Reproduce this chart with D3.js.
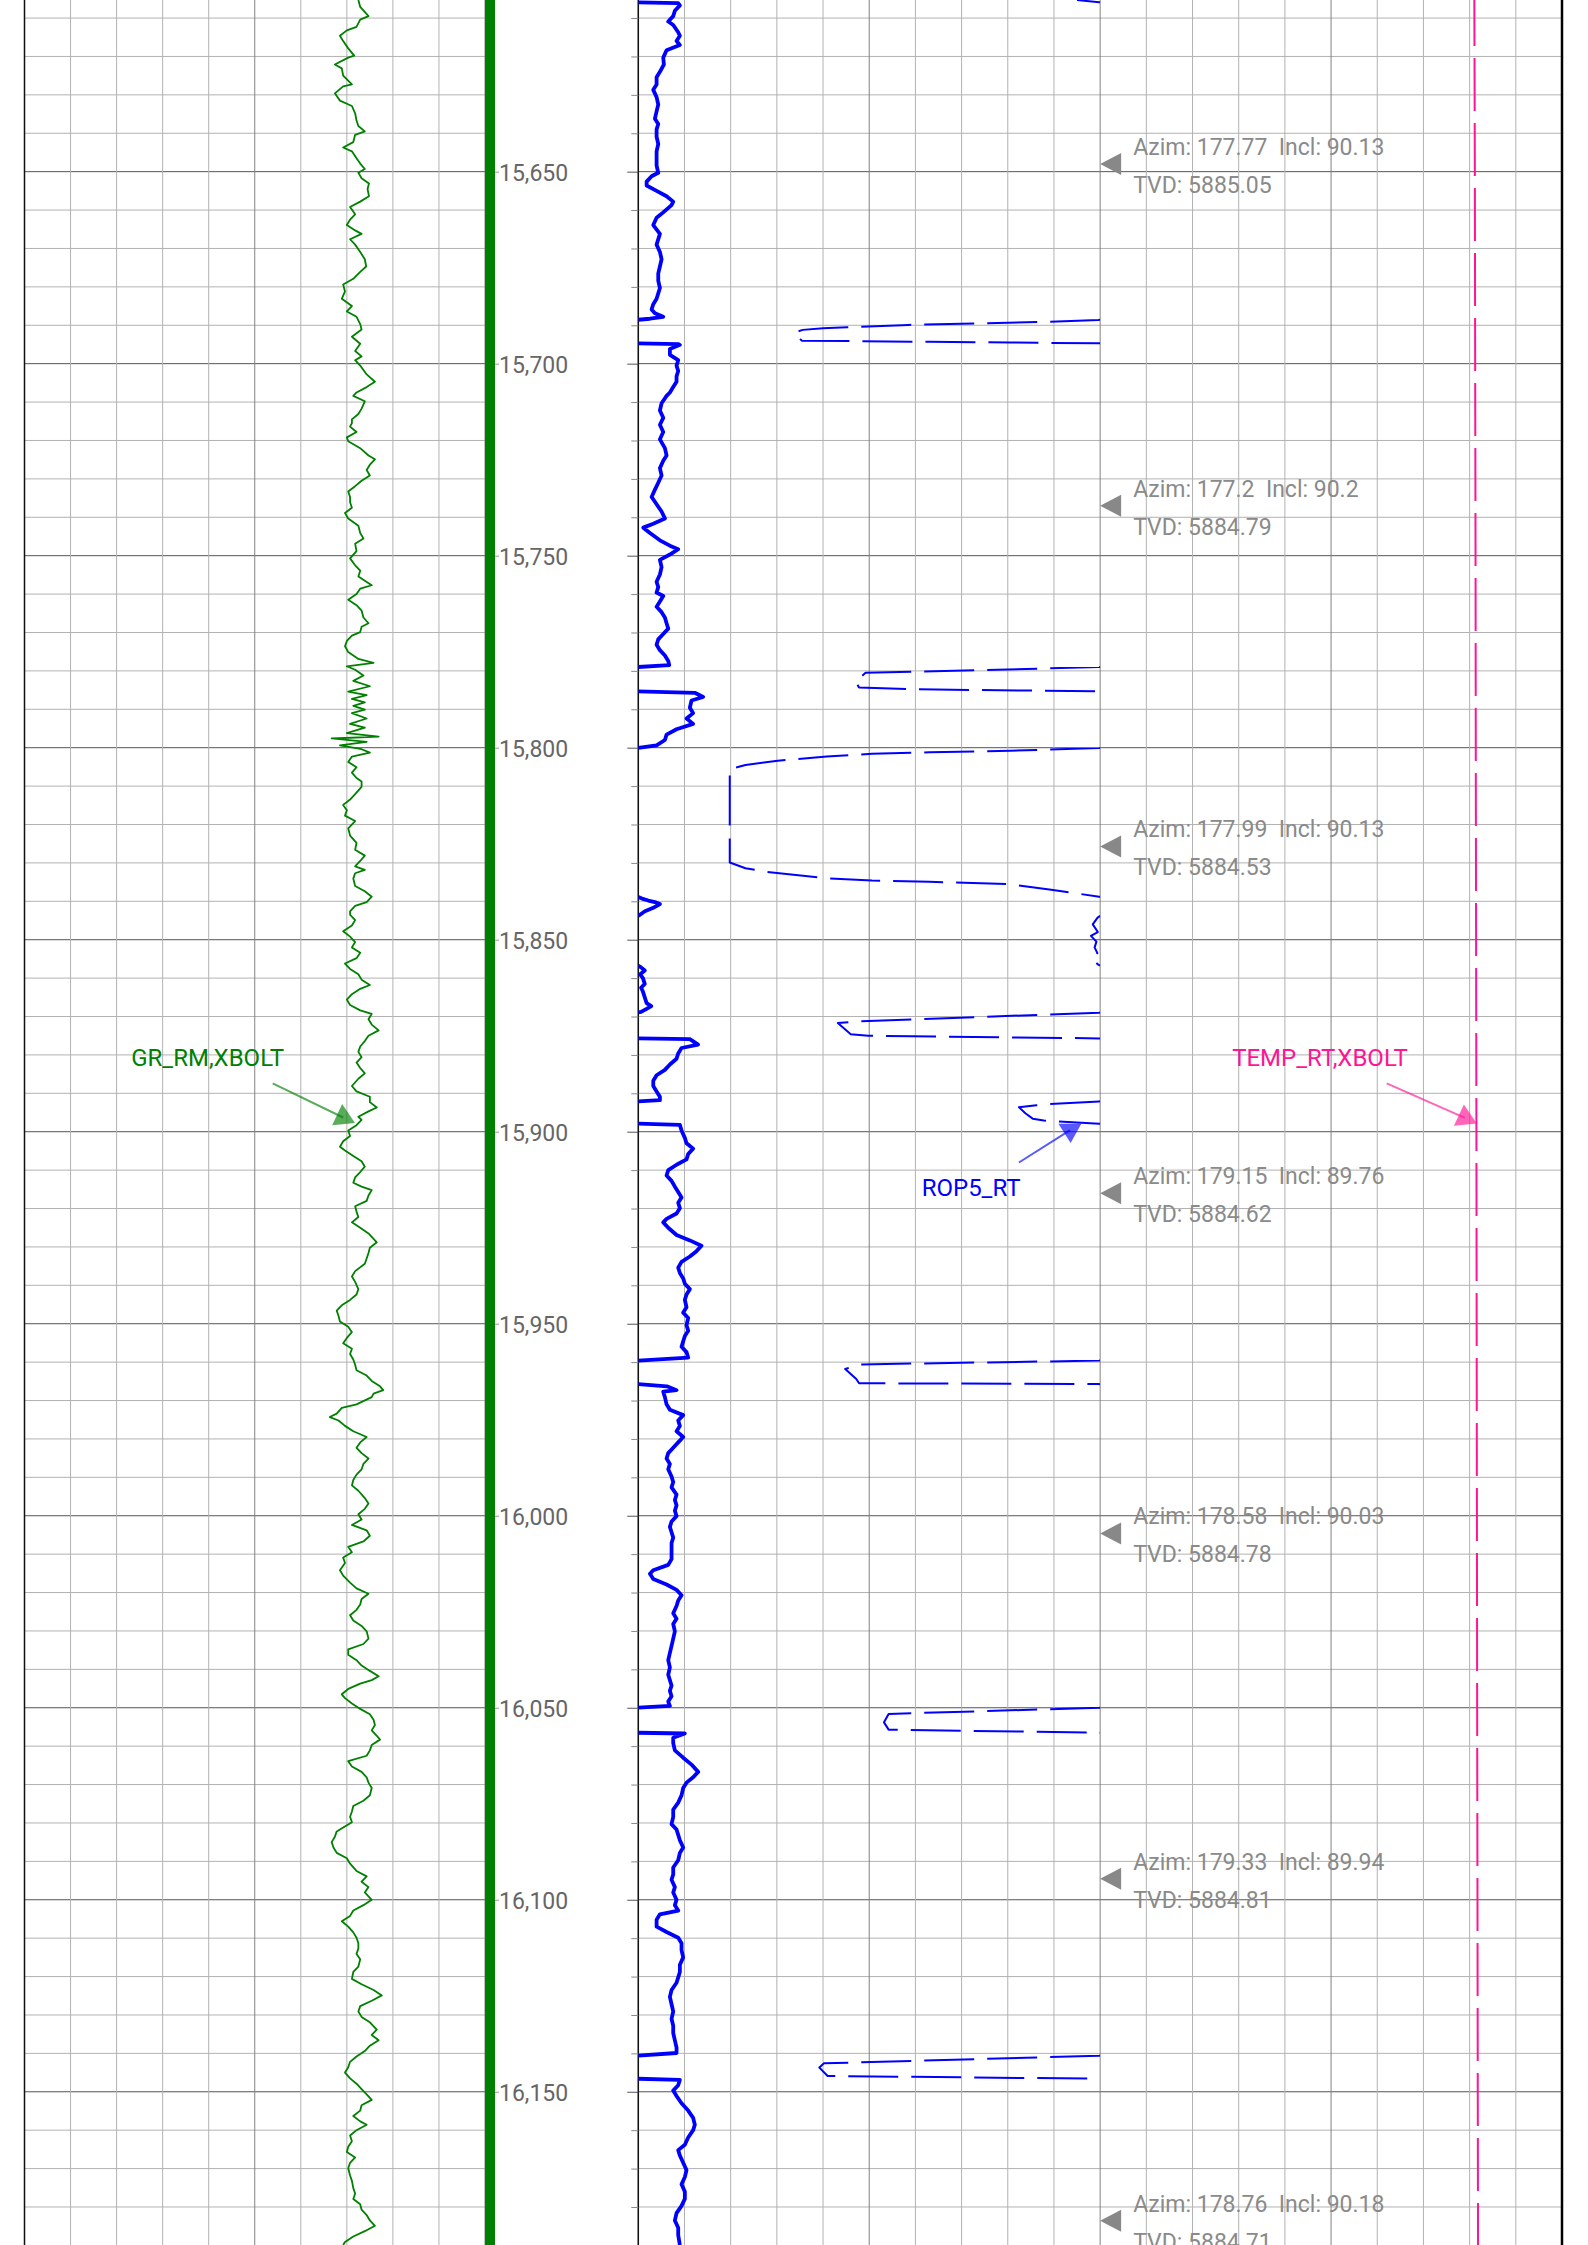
<!DOCTYPE html>
<html>
<head>
<meta charset="utf-8">
<script src="https://cdn.jsdelivr.net/npm/d3@7"></script>
<style>
  html, body { margin: 0; padding: 0; background: #fff; }
  svg { display: block; }
  text { font-family: Roboto, "Noto Sans", sans-serif; }
</style>
</head>
<body>
<svg id="log" width="1588" height="2245"></svg>
<script>
// ---- Depth window (ft MD) ----
const depthRange = [15605.3, 16189.9];
const depthMinorStep = 10;
const depthMajorStep = 50;

// ---- GR_RM,XBOLT : [depth ft, gAPI] ----
const grData = [
  [15605.3,72.5],[15607.1,72.9],[15609.5,74.7],[15610.4,72.9],[15612.3,72.1],[15613.2,70.0],[15614.6,68.5],[15616.0,69.2],
  [15617.9,70.3],[15619.8,71.6],[15620.3,70.3],[15622.1,67.4],[15623.1,68.9],[15625.0,69.2],[15627.3,71.1],[15627.8,69.2],
  [15629.6,67.4],[15631.5,68.5],[15632.9,71.1],[15634.8,71.8],[15636.7,72.1],[15638.1,72.5],[15639.5,73.9],[15640.4,71.8],
  [15642.3,71.4],[15643.7,69.2],[15644.7,71.1],[15646.5,72.1],[15647.9,72.9],[15649.3,73.9],[15650.3,72.5],[15651.7,73.2],
  [15653.1,74.8],[15654.5,74.5],[15656.4,74.8],[15657.8,72.9],[15659.2,70.7],[15661.1,71.8],[15662.5,70.7],[15663.9,70.0],
  [15665.3,71.8],[15666.2,73.2],[15667.6,70.7],[15669.0,71.8],[15670.9,72.9],[15672.8,73.9],[15674.7,74.2],[15676.1,72.9],
  [15677.9,71.4],[15679.4,69.2],[15681.2,69.6],[15683.1,68.9],[15685.0,71.1],[15686.4,70.0],[15687.8,72.1],[15689.7,72.9],
  [15691.1,73.2],[15693.0,71.1],[15694.8,72.9],[15696.7,71.8],[15698.1,73.2],[15699.1,71.8],[15700.5,72.9],[15702.8,74.3],
  [15704.7,76.1],[15706.1,74.3],[15707.5,72.1],[15708.4,71.4],[15709.8,73.9],[15711.7,73.2],[15713.1,72.5],[15714.5,71.1],
  [15715.5,71.1],[15716.4,70.7],[15717.8,72.1],[15719.2,70.0],[15720.2,70.3],[15722.0,72.9],[15723.9,74.7],[15724.9,76.1],
  [15726.3,75.0],[15727.7,74.3],[15729.1,75.0],[15730.5,73.2],[15731.9,71.8],[15733.3,70.3],[15734.7,70.7],[15736.1,70.7],
  [15737.5,71.1],[15738.9,69.6],[15740.3,70.3],[15742.2,72.5],[15744.1,72.9],[15745.5,73.6],[15746.9,71.8],[15748.8,72.1],
  [15750.7,70.7],[15752.5,71.8],[15753.9,72.9],[15755.4,72.5],[15757.7,75.4],[15758.6,72.9],[15760.0,72.1],[15761.5,70.3],
  [15762.9,72.1],[15764.3,73.2],[15766.1,73.6],[15767.6,74.7],[15768.5,73.2],[15769.9,72.9],[15770.8,71.1],[15772.2,70.0],
  [15773.6,69.6],[15775.1,70.3],[15776.9,72.5],[15777.9,75.8],[15778.8,70.0],[15779.7,71.8],[15781.2,73.6],[15782.6,71.4],
  [15784.0,75.0],[15785.4,70.3],[15786.3,74.3],[15787.3,71.1],[15788.2,73.9],[15789.1,71.4],[15790.1,73.9],[15791.0,71.1],
  [15792.4,74.3],[15793.8,70.7],[15794.8,73.9],[15796.2,70.0],[15797.1,76.9],[15797.6,66.7],[15798.5,74.3],[15799.4,68.5],
  [15800.4,73.2],[15801.3,75.0],[15802.3,71.1],[15803.7,70.3],[15805.1,72.1],[15806.5,71.1],[15807.9,72.1],[15808.8,73.2],
  [15810.2,73.2],[15812.1,71.8],[15813.5,70.7],[15814.9,69.2],[15816.3,70.0],[15817.7,69.6],[15819.1,71.8],[15821.0,70.3],
  [15822.9,70.7],[15824.8,72.1],[15826.6,71.8],[15828.1,73.9],[15829.5,72.9],[15830.9,71.8],[15831.8,73.9],[15832.7,71.8],
  [15834.1,71.4],[15836.0,71.8],[15837.4,73.9],[15838.8,75.4],[15840.2,74.3],[15841.2,71.8],[15842.6,70.7],[15843.5,70.7],
  [15844.9,71.8],[15846.3,71.1],[15847.8,69.2],[15849.2,70.7],[15850.6,71.8],[15852.0,71.1],[15853.4,72.9],[15854.8,72.1],
  [15856.2,69.6],[15857.6,70.7],[15859.0,72.5],[15860.4,73.2],[15861.8,75.0],[15862.8,72.9],[15864.2,71.1],[15865.6,70.0],
  [15867.0,70.7],[15868.4,72.9],[15869.3,75.4],[15870.7,74.7],[15872.1,75.4],[15873.6,76.9],[15875.0,74.7],[15876.4,73.9],
  [15877.8,72.9],[15879.2,72.5],[15880.6,73.2],[15882.0,72.1],[15883.4,72.9],[15884.8,73.9],[15886.2,72.5],[15888.1,71.1],
  [15889.5,72.1],[15890.9,75.0],[15892.3,75.0],[15893.7,76.5],[15894.7,74.7],[15896.1,72.5],[15896.9,73.2],[15898.3,72.1],
  [15899.7,70.3],[15901.1,70.7],[15902.5,69.2],[15903.9,68.5],[15904.9,69.6],[15906.3,71.4],[15907.7,73.2],[15909.1,73.9],
  [15910.5,72.9],[15911.9,71.8],[15913.3,71.4],[15914.3,73.2],[15915.2,75.4],[15916.6,74.7],[15918.0,74.3],[15919.4,71.8],
  [15920.8,72.1],[15922.2,72.5],[15923.6,71.1],[15925.0,72.9],[15926.5,74.7],[15927.9,75.8],[15928.8,76.5],[15930.2,75.0],
  [15931.6,74.7],[15933.0,74.3],[15934.4,73.9],[15936.3,71.8],[15937.7,71.1],[15939.1,71.8],[15941.0,72.5],[15942.4,72.1],
  [15943.8,70.7],[15945.2,68.9],[15946.6,67.8],[15948.0,68.2],[15949.4,68.5],[15950.8,70.3],[15952.2,71.1],[15953.7,70.0],
  [15955.1,69.2],[15956.5,71.1],[15957.9,70.7],[15959.3,71.4],[15960.7,71.8],[15962.1,72.1],[15963.5,74.3],[15964.9,75.4],
  [15966.3,77.2],[15967.3,77.9],[15968.2,75.8],[15969.1,75.4],[15971.0,72.1],[15971.9,68.9],[15973.4,67.8],[15974.3,66.3],
  [15975.2,68.2],[15976.6,69.6],[15978.0,71.4],[15979.5,74.3],[15980.9,72.9],[15982.3,72.1],[15983.7,73.2],[15985.1,74.7],
  [15986.5,73.6],[15987.9,73.2],[15989.3,72.1],[15990.7,71.4],[15992.1,71.1],[15993.5,72.5],[15995.4,73.9],[15996.8,74.7],
  [15998.2,73.9],[15999.6,72.5],[16001.0,73.2],[16002.4,71.1],[16003.8,74.3],[16005.2,75.0],[16006.7,73.6],[16008.1,70.3],
  [16009.5,71.1],[16010.9,69.2],[16012.3,69.6],[16014.2,68.5],[16015.6,69.2],[16017.4,70.7],[16018.9,72.1],[16020.3,74.7],
  [16021.7,73.2],[16023.1,72.9],[16024.5,72.1],[16025.9,70.7],[16027.3,71.4],[16028.7,73.2],[16030.1,74.3],[16032.0,74.7],
  [16033.4,73.6],[16034.8,70.3],[16036.2,70.3],[16037.6,72.1],[16039.0,73.2],[16040.4,75.0],[16041.8,76.9],[16042.8,75.4],
  [16043.7,72.9],[16045.1,70.3],[16046.5,68.9],[16047.5,69.6],[16048.9,71.1],[16050.3,72.9],[16051.7,75.0],[16053.1,75.8],
  [16054.5,76.1],[16055.9,75.4],[16057.3,76.5],[16058.3,77.2],[16059.7,75.4],[16061.1,75.0],[16062.5,74.3],[16063.9,70.3],
  [16065.3,71.1],[16066.7,73.2],[16068.1,74.3],[16069.5,74.7],[16070.9,75.4],[16072.8,75.0],[16074.2,73.6],[16075.6,71.4],
  [16077.0,71.1],[16078.4,70.7],[16079.8,71.1],[16081.2,69.2],[16082.2,67.8],[16083.6,67.4],[16085.0,66.7],[16086.4,67.1],
  [16087.8,67.8],[16089.2,70.0],[16090.6,70.7],[16092.5,72.1],[16093.9,74.3],[16095.3,73.2],[16096.7,74.7],[16098.1,73.9],
  [16100.0,75.4],[16101.4,73.6],[16102.8,71.4],[16104.2,70.7],[16105.6,68.9],[16107.0,70.3],[16108.5,71.4],[16109.9,72.1],
  [16111.3,72.5],[16112.7,72.5],[16114.1,72.1],[16115.5,72.9],[16117.4,72.5],[16118.8,71.4],[16120.6,71.1],[16122.0,73.2],
  [16123.5,75.8],[16124.9,77.6],[16126.3,75.4],[16127.7,72.9],[16129.1,72.5],[16130.5,73.2],[16131.9,75.0],[16133.8,76.5],
  [16135.2,75.4],[16136.6,76.9],[16138.0,75.0],[16139.4,73.9],[16140.8,72.1],[16142.2,70.7],[16143.6,70.3],[16145.0,69.6],
  [16146.5,70.7],[16147.9,72.1],[16149.3,73.2],[16150.7,74.3],[16152.1,75.4],[16153.5,73.2],[16154.9,72.9],[16156.3,71.4],
  [16157.7,72.9],[16158.6,74.3],[16160.0,72.1],[16161.4,70.7],[16162.9,71.1],[16164.3,70.3],[16165.7,70.0],[16167.1,71.8],
  [16168.5,70.7],[16169.9,70.3],[16171.8,70.7],[16173.2,71.1],[16175.1,71.4],[16176.5,71.8],[16177.9,71.4],[16179.3,72.9],
  [16180.7,73.2],[16182.1,74.3],[16183.5,75.0],[16184.9,76.1],[16186.3,73.9],[16187.7,71.4],[16189.1,69.6],[16189.9,69.2]
];

// ---- ROP5_RT : [depth ft, ft/hr]; values below 0 wrap to the backup scale ----
const ropData = [
  [15605.3,-25],[15605.9,-1],[15606.1,43.2],[15606.7,45.0],[15608.1,39.6],[15609.5,37.8],[15610.9,32.4],[15611.8,37.8],
  [15613.7,43.2],[15614.6,45.0],[15616.0,41.4],[15617.0,45.0],[15618.4,30.6],[15620.3,27.0],[15622.1,27.7],[15624.0,23.4],
  [15625.4,19.8],[15627.3,19.8],[15628.7,16.2],[15630.6,19.8],[15632.5,21.6],[15634.3,19.8],[15636.2,18.0],[15637.6,21.6],
  [15639.0,19.8],[15640.9,19.8],[15642.8,21.6],[15644.7,19.8],[15646.5,19.8],[15648.4,19.8],[15650.3,21.6],[15651.2,14.4],
  [15652.6,9.0],[15653.6,9.0],[15655.0,19.8],[15656.4,30.6],[15657.8,37.8],[15658.7,36.0],[15660.6,27.0],[15662.0,19.8],
  [15663.9,16.2],[15666.2,23.4],[15669.0,19.8],[15670.9,23.4],[15672.8,25.2],[15674.7,23.4],[15676.5,21.6],[15678.4,21.6],
  [15680.3,23.4],[15681.7,21.6],[15683.1,19.8],[15684.5,16.2],[15685.9,14.4],[15686.9,18.0],[15687.8,27.0],[15688.3,12.6],
  [15688.6,-2],[15689.1,-57],[15689.9,-207],[15690.5,-274],[15690.8,-300],[15691.2,-322],[15691.9,-331],[15692.9,-328],
  [15694.0,-323],[15694.3,-185],[15694.5,-97],[15694.7,-2],
  [15694.9,43.2],[15695.1,45.0],[15696.2,34.2],[15697.7,34.2],[15699.1,43.2],[15700.5,41.4],[15701.9,43.2],[15703.3,41.4],
  [15704.7,41.4],[15706.1,37.8],[15707.5,34.2],[15708.4,30.6],[15710.3,25.2],[15712.2,23.4],[15714.1,27.0],[15715.9,23.4],
  [15717.8,27.0],[15719.7,23.4],[15722.0,28.8],[15723.9,30.6],[15725.3,27.0],[15727.2,23.4],[15729.1,25.2],[15731.0,21.6],
  [15732.8,18.0],[15734.7,14.4],[15736.6,19.8],[15738.5,25.2],[15740.3,28.8],[15741.7,16.2],[15742.7,5.4],[15744.1,12.6],
  [15746.0,23.4],[15747.4,34.2],[15748.3,43.2],[15749.7,34.2],[15751.1,23.4],[15753.0,25.2],[15754.9,23.4],[15756.8,19.8],
  [15758.2,21.6],[15759.6,19.8],[15760.5,27.0],[15761.9,23.4],[15763.3,19.8],[15764.7,25.2],[15766.1,28.8],[15767.6,30.6],
  [15769.0,32.4],[15770.4,27.0],[15771.8,21.6],[15773.2,19.8],[15774.6,23.4],[15776.0,28.8],[15777.4,32.4],[15778.5,33.5],
  [15779.0,-1],[15779.8,-130],[15780.5,-254],[15782.8,-265],[15784.3,-261],[15784.8,-200],[15785.3,-2],
  [15785.7,61.2],[15786.8,70.2],[15787.7,57.6],[15789.6,55.8],[15791.0,59.4],[15792.4,52.2],[15793.8,59.4],[15795.2,41.4],
  [15796.6,30.6],[15798.0,28.8],[15799.4,19.8],
  [15800.1,-1],[15800.8,-97],[15801.2,-185],[15801.6,-247],[15802.3,-296],[15803.4,-349],[15804.5,-384],[15805.6,-401],
  [15829.9,-401],[15831.4,-384],[15832.3,-362],[15834.0,-296],[15834.6,-247],[15834.9,-185],[15835.5,-101],[15837.0,-53],
  [15838.8,-1],
  [15839.3,4],[15839.8,10.8],[15840.2,18.0],[15840.7,23.4],[15841.7,16.2],[15842.6,7.2],[15843.5,1.8],
  [15844.3,-3],[15846.0,-8],[15848.0,-2.5],[15849.0,-10],[15850.5,-4],[15852.0,-6],[15853.5,-3],[15855.0,-9],[15856.5,-2],
  [15857.2,3],[15858.0,7],[15859.0,2],[15860.0,5],[15861.5,7],[15862.5,3],[15863.5,5],[15865.0,7],[15866.5,9],
  [15867.3,14],[15868.0,9],[15868.8,3],
  [15869.0,-1],[15871.3,-264],[15871.7,-284],[15874.6,-270],[15875.0,-251],[15875.7,-1],
  [15875.9,55.8],[15877.3,64.8],[15878.2,46.8],[15879.6,43.2],[15881.0,41.4],[15882.5,34.2],[15883.9,28.8],[15885.3,19.8],
  [15886.7,16.2],[15888.1,16.2],[15889.5,19.8],[15890.9,23.4],[15891.8,23.4],
  [15892.1,-1],[15892.8,-56.5],[15893.1,-69],[15893.6,-88],[15895.2,-81],[15896.6,-73],[15897.1,-61],[15897.9,-1],
  [15898.2,45.0],[15899.7,46.8],[15901.6,50.4],[15903.0,52.2],[15904.4,59.4],[15905.8,54.0],[15907.2,52.2],[15908.6,41.4],
  [15910.0,32.4],[15911.4,30.6],[15912.8,36.0],[15914.3,39.6],[15915.7,43.2],[15917.1,46.8],[15918.5,43.2],[15919.9,45.0],
  [15921.3,41.4],[15922.7,30.6],[15923.6,27.0],[15925.0,32.4],[15926.9,41.4],[15928.3,55.8],[15929.7,68.4],[15931.1,63.0],
  [15932.5,55.8],[15933.9,46.8],[15935.4,43.2],[15936.8,45.0],[15938.2,48.6],[15939.6,50.4],[15941.0,55.8],[15942.4,52.2],
  [15943.8,50.4],[15945.7,52.2],[15947.1,48.6],[15948.5,54.0],[15950.4,52.2],[15951.8,54.0],[15953.2,50.4],[15954.6,48.6],
  [15956.0,46.8],[15957.4,52.2],[15958.8,54.0],
  [15959.6,-1],[15960.6,-261],[15961.8,-276],[15964.4,-264],[15965.5,-261],[15965.7,-2],
  [15966.3,31.0],[15967.3,41.4],[15967.7,27.0],[15969.1,28.8],[15971.0,30.6],[15972.4,34.2],[15973.8,48.6],[15975.2,43.2],
  [15976.6,45.0],[15978.0,41.4],[15979.5,48.6],[15980.9,43.2],[15982.3,37.8],[15983.7,32.4],[15985.1,30.6],[15986.5,34.2],
  [15987.9,32.4],[15989.8,36.0],[15991.2,37.8],[15992.6,36.0],[15994.5,41.4],[15995.9,39.6],[15997.3,41.4],[15998.7,39.6],
  [16000.1,41.4],[16001.5,36.0],[16002.9,34.2],[16004.3,36.0],[16005.7,37.8],[16007.1,36.0],[16008.5,36.0],[16009.9,36.0],
  [16011.3,36.0],[16012.8,32.4],[16014.2,16.2],[16015.1,12.6],[16016.5,16.2],[16017.9,30.6],[16019.3,41.4],[16020.7,46.8],
  [16022.1,43.2],[16023.5,41.4],[16025.4,37.8],[16026.8,41.4],[16028.2,37.8],[16030.1,39.6],[16032.0,37.8],[16033.9,36.0],
  [16035.7,34.2],[16037.6,32.4],[16039.5,34.2],[16041.4,32.4],[16044.2,36.0],[16045.6,34.2],[16047.0,36.0],[16048.4,32.4],
  [16049.5,34.2],
  [16050.0,-1],[16051.6,-229],[16053.8,-234],[16055.7,-229],[16056.5,-1],
  [16056.7,50.4],[16057.8,37.8],[16059.2,37.8],[16061.1,39.6],[16063.0,48.6],[16064.8,57.6],[16066.7,64.8],[16068.1,59.4],
  [16069.5,52.2],[16070.9,48.6],[16072.8,46.8],[16074.7,43.2],[16076.5,37.8],[16078.4,37.8],[16080.3,36.0],[16081.7,41.4],
  [16083.1,43.2],[16084.5,45.0],[16086.4,48.6],[16087.8,45.0],[16089.7,43.2],[16091.6,37.8],[16093.4,37.8],[16094.8,36.0],
  [16096.7,39.6],[16098.1,37.8],[16100.0,41.4],[16101.4,39.6],[16102.8,43.2],[16103.8,23.4],[16105.2,19.8],[16107.0,19.8],
  [16108.4,30.6],[16109.9,43.2],[16111.3,46.8],[16113.1,46.8],[16115.0,48.6],[16116.9,45.0],[16118.8,45.0],[16120.2,43.2],
  [16121.6,41.4],[16123.5,36.0],[16125.3,34.2],[16127.2,36.0],[16129.1,37.8],[16131.0,36.0],[16132.8,37.8],[16134.7,37.8],
  [16136.6,39.6],[16138.5,41.4],[16139.9,41.4],
  [16140.6,-1],[16142.6,-299],[16143.7,-304],[16145.9,-295],[16146.6,-1],
  [16146.9,45.0],[16148.3,43.2],[16149.7,37.8],[16151.1,41.4],[16153.0,46.8],[16154.9,54.0],[16156.8,59.4],[16158.6,61.2],
  [16160.0,59.4],[16161.9,54.0],[16163.8,50.4],[16165.2,43.2],[16166.6,45.0],[16168.5,48.6],[16170.4,52.2],[16172.2,50.4],
  [16174.1,46.8],[16176.0,50.4],[16177.9,50.4],[16179.7,46.8],[16181.6,41.4],[16183.5,39.6],[16185.4,43.2],[16187.3,43.2],
  [16189.9,45.0]
];

// ---- TEMP_RT,XBOLT : [depth ft, degF] ----
const tempData = [
  [15605.3,181.02],[15650,181.13],[15700,181.20],[15750,181.28],[15800,181.33],[15850,181.40],[15900,181.47],
  [15950,181.52],[16000,181.58],[16050,181.63],[16100,181.70],[16150,181.76],[16189.9,181.82]
];

// ---- Survey stations ----
const surveyDepth = [15648.0, 15737.0, 15825.7, 15916.0, 16004.6, 16094.5, 16183.6];
const surveyAzim  = [177.77, 177.2, 177.99, 179.15, 178.58, 179.33, 178.76];
const surveyIncl  = [90.13, 90.2, 90.13, 89.76, 90.03, 89.94, 90.18];
const surveyTVD   = [5885.05, 5884.79, 5884.53, 5884.62, 5884.78, 5884.81, 5884.71];

// ---- Curve scales ----
const grDomain = [0, 100];
const ropDomain = [0, 500];
const tempDomain = [0, 200];

// ================= drawing =================
const W = 1588, H = 2245;
const svg = d3.select("#log");

const y = d3.scaleLinear().domain(depthRange).range([0, H]);
const grX = d3.scaleLinear().domain(grDomain).range([24.5, 485]);
const tempX = d3.scaleLinear().domain(tempDomain).range([638.3, 1562]);
const ropX = d3.scaleLinear().domain(ropDomain).range([638.3, tempX(100)]);

const depthTicks = d3.range(Math.ceil(depthRange[0] / depthMinorStep) * depthMinorStep, depthRange[1], depthMinorStep);
const isMajor = d => Math.abs(d % depthMajorStep) < 1e-6;
const majorTicks = depthTicks.filter(isMajor);
const minorTicks = depthTicks.filter(d => !isMajor(d));

svg.append("rect").attr("width", W).attr("height", H).attr("fill", "#fff");

const COLOR_MINOR = "#b2b2b2";
const COLOR_MAJOR_V = "#828282";
const COLOR_MAJOR_H = "#555";

function drawTrackGrid(g, xScale, xTicks, xMajorEvery) {
  const [x0, x1] = xScale.range();
  // horizontal depth lines
  g.selectAll("line.h").data(depthTicks).join("line")
    .attr("x1", x0).attr("x2", x1)
    .attr("y1", d => y(d)).attr("y2", d => y(d))
    .attr("stroke", d => isMajor(d) ? COLOR_MAJOR_H : COLOR_MINOR)
    .attr("stroke-width", 1);
  // vertical value lines
  g.selectAll("line.v").data(xTicks).join("line")
    .attr("x1", d => xScale(d)).attr("x2", d => xScale(d))
    .attr("y1", 0).attr("y2", H)
    .attr("stroke", (d, i) => (i % xMajorEvery === 0) ? COLOR_MAJOR_V : COLOR_MINOR)
    .attr("stroke-width", 1);
}

const gridLeft = svg.append("g");
drawTrackGrid(gridLeft, grX, d3.range(grDomain[0], grDomain[1] + 0.001, 10), 5);
const gridRight = svg.append("g");
drawTrackGrid(gridRight, tempX, d3.range(tempDomain[0], tempDomain[1] + 0.001, 10), 5);

// track borders
svg.append("line").attr("x1", grX(0)).attr("x2", grX(0)).attr("y1", 0).attr("y2", H)
  .attr("stroke", "#111").attr("stroke-width", 1.5);
svg.append("line").attr("x1", tempX(0)).attr("x2", tempX(0)).attr("y1", 0).attr("y2", H)
  .attr("stroke", "#111").attr("stroke-width", 1.5);
svg.append("line").attr("x1", tempX(200)).attr("x2", tempX(200)).attr("y1", 0).attr("y2", H)
  .attr("stroke", "#000").attr("stroke-width", 2.5);

// depth track edge bar
svg.append("rect").attr("x", grX(100)).attr("y", 0).attr("width", 10).attr("height", H).attr("fill", "#008000");

// depth labels
const depthAxis = d3.axisRight(y).tickValues(majorTicks).tickSize(4).tickPadding(0)
  .tickFormat(d3.format(","));
const gDepth = svg.append("g").attr("transform", `translate(${grX(100) + 10},0)`).call(depthAxis);
gDepth.select(".domain").remove();
gDepth.selectAll(".tick line").attr("stroke", "#999");
gDepth.selectAll(".tick text")
  .attr("font-family", "Roboto").attr("font-size", 23).attr("fill", "#666").attr("dy", "0.37em");

// tick marks on the left of the right track
function sideTicks(values, len, color) {
  const ax = d3.axisLeft(y).tickValues(values).tickSize(len).tickFormat("");
  const g = svg.append("g").attr("transform", `translate(${tempX(0)},0)`).call(ax);
  g.select(".domain").remove();
  g.selectAll(".tick line").attr("stroke", color);
}
sideTicks(minorTicks, 7, "#888");
sideTicks(majorTicks, 11, "#555");

// clip regions
const defs = svg.append("defs");
defs.append("clipPath").attr("id", "clipGR").append("rect")
  .attr("x", grX(0)).attr("y", 0).attr("width", grX(100) - grX(0)).attr("height", H);
defs.append("clipPath").attr("id", "clipROP").append("rect")
  .attr("x", ropX(0)).attr("y", 0).attr("width", ropX(500) - ropX(0)).attr("height", H);

// GR curve
svg.append("path").datum(grData)
  .attr("clip-path", "url(#clipGR)")
  .attr("fill", "none").attr("stroke", "#008000").attr("stroke-width", 1.8)
  .attr("stroke-linejoin", "round")
  .attr("d", d3.line().x(d => grX(d[1])).y(d => y(d[0])));

// ROP curve with wrap-around backup: split at zero crossings
function splitWrap(data) {
  const segs = [];
  let cur = null;
  data.forEach((p, i) => {
    const pos = p[1] >= 0;
    if (!cur) { cur = { pos, pts: [p] }; segs.push(cur); return; }
    if (pos !== cur.pos) {
      const q = data[i - 1];
      const t = q[1] / (q[1] - p[1]);
      const dc = q[0] + t * (p[0] - q[0]);
      cur.pts.push([dc, 0]);
      cur = { pos, pts: [[dc, 0]] };
      segs.push(cur);
    }
    cur.pts.push(p);
  });
  return segs;
}
const ropSpan = ropDomain[1] - ropDomain[0];
const ropLine = d3.line().x(d => ropX(d[1])).y(d => y(d[0]));
const ropBackupLine = d3.line().x(d => ropX(d[1] + ropSpan)).y(d => y(d[0]));
const gRop = svg.append("g").attr("clip-path", "url(#clipROP)");
splitWrap(ropData).forEach(s => {
  gRop.append("path").datum(s.pts)
    .attr("fill", "none").attr("stroke", "#0000ff")
    .attr("stroke-width", s.pos ? 3.8 : 2)
    .attr("stroke-linejoin", "round")
    .attr("stroke-dasharray", s.pos ? null : "50,13")
    .attr("d", s.pos ? ropLine : ropBackupLine);
});

// TEMP curve
svg.append("path").datum(tempData)
  .attr("fill", "none").attr("stroke", "#ff1493").attr("stroke-width", 2)
  .attr("stroke-dasharray", "53,12").attr("stroke-dashoffset", 7)
  .attr("d", d3.line().x(d => tempX(d[1])).y(d => y(d[0])));

// survey stations
const tipX = ropX(ropDomain[1]);
const gSurvey = svg.append("g");
surveyDepth.forEach((d, i) => {
  const yc = y(d);
  gSurvey.append("path")
    .attr("d", `M${tipX},${yc}L${tipX + 21},${yc - 11}L${tipX + 21},${yc + 11}Z`)
    .attr("fill", "#888");
  gSurvey.append("text").attr("x", tipX + 33).attr("y", yc - 9)
    .attr("font-size", 23).attr("fill", "#8a8a8a").style("white-space", "pre")
    .text(`Azim: ${surveyAzim[i]}  Incl: ${surveyIncl[i]}`);
  gSurvey.append("text").attr("x", tipX + 33).attr("y", yc + 29)
    .attr("font-size", 23).attr("fill", "#8a8a8a")
    .text(`TVD: ${surveyTVD[i]}`);
});

// curve name callouts
function callout(opt) {
  const ax = opt.x, ay = opt.y;
  const g = svg.append("g");
  g.append("line")
    .attr("x1", ax + opt.line[0]).attr("y1", ay + opt.line[1])
    .attr("x2", ax).attr("y2", ay)
    .attr("stroke", opt.color).attr("stroke-opacity", 0.65).attr("stroke-width", 2);
  g.append("path")
    .attr("d", "M" + opt.tri.map(p => `${ax + p[0]},${ay + p[1]}`).join("L") + "Z")
    .attr("fill", opt.color).attr("fill-opacity", 0.65);
  g.append("text").attr("x", ax + opt.text[0]).attr("y", ay + opt.text[1])
    .attr("text-anchor", "end").attr("font-size", 24).attr("fill", opt.color)
    .text(opt.label);
}
const triUp = [[-11, 7.8], [-1, -13.4], [11.8, 5.6]];
const triDown = [[-11.7, -6.4], [11.2, -6.4], [0.5, 12.9]];
callout({ label: "GR_RM,XBOLT", color: "#008000", x: grX(69.2), y: y(15896.3),
  line: [-70.5, -34.2], tri: triUp, text: [-59, -51.5] });
callout({ label: "TEMP_RT,XBOLT", color: "#ff1493", x: tempX(178.98), y: y(15896.4),
  line: [-78.2, -34.6], tri: triUp, text: [-57, -51.9] });
callout({ label: "ROP5_RT", color: "#0000ff", x: ropX(467.5), y: y(15899.6),
  line: [-51.2, 32.3], tri: triDown, text: [-49.5, 65.6] });
</script>
</body>
</html>
